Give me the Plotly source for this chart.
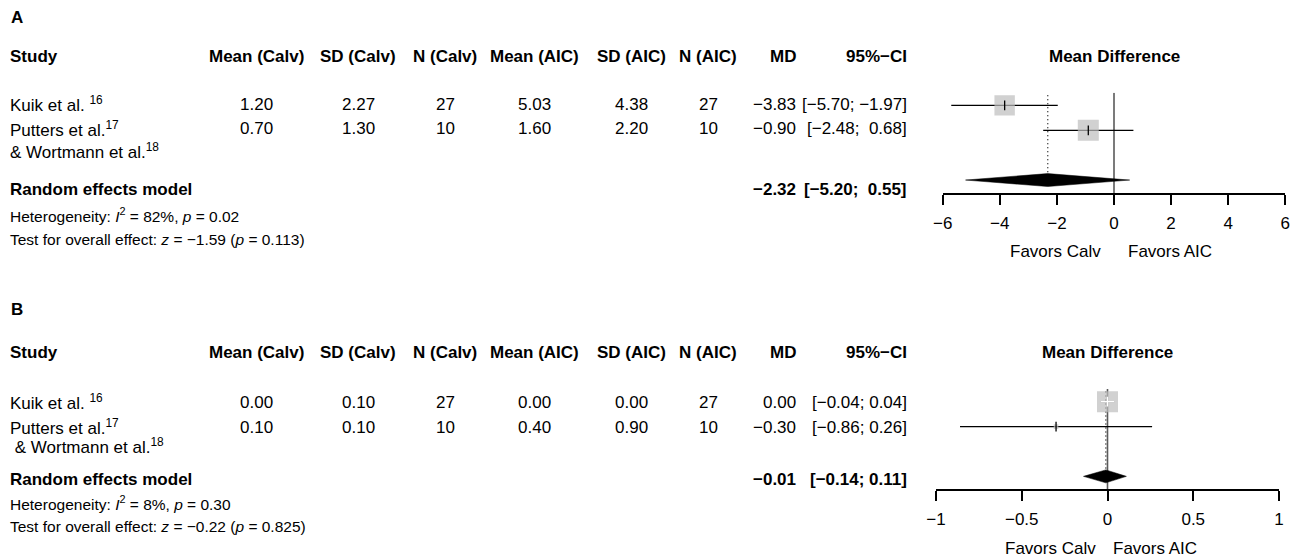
import plotly.graph_objects as go

W, H = 1300, 560
FONT = "Liberation Sans, Arial, Helvetica, sans-serif"

# ---------------- data ----------------
panel_labels = ["A", "B"]
study_line1 = ["Kuik et al. <sup>16</sup>", "Putters et al.<sup>17</sup>"]
study_line2 = ["& Wortmann et al.<sup>18</sup>", "\u00a0& Wortmann et al.<sup>18</sup>"]
headers = ["Study", "Mean (Calv)", "SD (Calv)", "N (Calv)", "Mean (AIC)",
           "SD (AIC)", "N (AIC)", "MD", "95%\u2212CI"]

mean_calv_A = [1.20, 0.70]
sd_calv_A = [2.27, 1.30]
n_calv_A = [27, 10]
mean_aic_A = [5.03, 1.60]
sd_aic_A = [4.38, 2.20]
n_aic_A = [27, 10]
md_A = [-3.83, -0.90]
ci_lo_A = [-5.70, -2.48]
ci_hi_A = [-1.97, 0.68]
weight_A = [48.6, 51.4]
pooled_A = [-2.32, -5.20, 0.55]
het_A = ["82%", "0.02", -1.59, "0.113"]

mean_calv_B = [0.00, 0.10]
sd_calv_B = [0.10, 0.10]
n_calv_B = [27, 10]
mean_aic_B = [0.00, 0.40]
sd_aic_B = [0.00, 0.90]
n_aic_B = [27, 10]
md_B = [0.00, -0.30]
ci_lo_B = [-0.04, -0.86]
ci_hi_B = [0.04, 0.26]
weight_B = [95.3, 4.7]
pooled_B = [-0.01, -0.14, 0.11]
het_B = ["8%", "0.30", -0.22, "0.825"]

xrange_A = [-6, 6]
xticks_A = [-6, -4, -2, 0, 2, 4, 6]
xrange_B = [-1, 1]
xticks_B = [-1, -0.5, 0, 0.5, 1]
favors = ["Favors Calv", "Favors AIC"]

# ---------------- layout constants (pixels) ----------------
col_x = [9, 256, 358, 445, 534, 631, 708, 797, 908]
col_anchor = ["left", "center", "center", "center", "center", "center", "center", "right", "right"]

layouts = [
    dict(label=17, header=57, r1=104, r2=129, r2b=151, summ=189, het=215, test=239,
         plot_top=92.7, plot_bot=193.0, x0=942.7, x1=1285.3, fav=252,
         fav_shift=(-11.7, 13.3), r2b_x=9),
    dict(label=309, header=352, r1=402, r2=427, r2b=446, summ=479, het=503, test=526,
         plot_top=389.0, plot_bot=489.3, x0=936.0, x1=1279.0, fav=548,
         fav_shift=(-10.6, 4.4), r2b_x=9),
]

YR = [4.52, 0.49]  # row units, reversed (row 1 at top)
SQ_MAX = 21
DIAM_H = 0.26


def X(px):
    return px / W


def Y(py):
    return 1 - py / H


def fmt(v, d=2):
    s = f"{abs(v):.{d}f}"
    return ("\u2212" + s) if v < 0 else s


panels = [
    dict(mc=mean_calv_A, sc=sd_calv_A, nc=n_calv_A, ma=mean_aic_A, sa=sd_aic_A, na=n_aic_A,
         md=md_A, lo=ci_lo_A, hi=ci_hi_A, w=weight_A, pooled=pooled_A, het=het_A,
         xr=xrange_A, xt=xticks_A),
    dict(mc=mean_calv_B, sc=sd_calv_B, nc=n_calv_B, ma=mean_aic_B, sa=sd_aic_B, na=n_aic_B,
         md=md_B, lo=ci_lo_B, hi=ci_hi_B, w=weight_B, pooled=pooled_B, het=het_B,
         xr=xrange_B, xt=xticks_B),
]

fig = go.Figure()
annotations = []
shapes = []


def ann(text, x, y, anchor="left", size=17, **kw):
    d = dict(text=text, x=x, y=y, xref="paper", yref="paper", xanchor=anchor,
             yanchor="middle", showarrow=False, borderpad=0,
             font=dict(family=FONT, size=size, color="black"))
    d.update(kw)
    annotations.append(d)


for i, (P, L) in enumerate(zip(panels, layouts)):
    xa = "x" if i == 0 else "x2"
    ya = "y" if i == 0 else "y2"
    # panel letter
    ann(f"<b>{panel_labels[i]}</b>", X(10), Y(L["label"]))
    # headers
    for h, cx, an in zip(headers, col_x, col_anchor):
        ann(f"<b>{h}</b>", X(cx), Y(L["header"]), an)
    ann("<b>Mean Difference</b>", 0.5, Y(L["header"]), "center",
        xref=f"{xa} domain")
    # study rows
    pad = any(h < 0 for h in P["hi"] + [P["pooled"][2]])

    def cistr(lo, hi):
        hs = fmt(hi)
        if pad and hi >= 0:
            hs = "\u00a0" + hs
        return f"[{fmt(lo)};\u00a0{hs}]"

    rows_y = [L["r1"], L["r2"]]
    for k in range(2):
        vals = [study_line1[k], fmt(P["mc"][k]), fmt(P["sc"][k]), str(P["nc"][k]),
                fmt(P["ma"][k]), fmt(P["sa"][k]), str(P["na"][k]), fmt(P["md"][k]),
                cistr(P["lo"][k], P["hi"][k])]
        for v, cx, an in zip(vals, col_x, col_anchor):
            ann(v, X(cx), Y(rows_y[k]), an)
    ann(study_line2[i], X(L["r2b_x"]), Y(L["r2b"]))
    # summary
    ann("<b>Random effects model</b>", X(9), Y(L["summ"]))
    ann(f"<b>{fmt(P['pooled'][0])}</b>", X(col_x[7]), Y(L["summ"]), "right")
    ann(f"<b>{cistr(P['pooled'][1], P['pooled'][2])}</b>", X(col_x[8]), Y(L["summ"]), "right")
    i2, ph, z, pz = P["het"]
    ann(f"Heterogeneity: <i>I</i><sup>2</sup> = {i2}, <i>p</i> = {ph}", X(9), Y(L["het"]), size=15.5)
    ann(f"Test for overall effect: <i>z</i> = {fmt(z)} (<i>p</i> = {pz})", X(9), Y(L["test"]), size=15.5)
    # favors labels
    ann(favors[0], 0, Y(L["fav"]), "right", xref=xa, xshift=L["fav_shift"][0])
    ann(favors[1], 0, Y(L["fav"]), "left", xref=xa, xshift=L["fav_shift"][1])

    # ---- forest marks ----
    rows = [1, 2]
    summ_row = 4
    ppu = (L["x1"] - L["x0"]) / (P["xr"][1] - P["xr"][0])
    wmax = max(P["w"])
    sizes = [SQ_MAX * (w / wmax) ** 0.5 for w in P["w"]]
    # zero line and dotted pooled line (below traces)
    shapes.append(dict(type="line", xref=xa, yref=ya, x0=0, x1=0, y0=YR[1], y1=YR[0],
                       line=dict(color="#5a5a5a", width=1.6), layer="below"))
    shapes.append(dict(type="line", xref=xa, yref=ya, x0=P["pooled"][0], x1=P["pooled"][0],
                       y0=YR[1] + 0.1, y1=summ_row - DIAM_H,
                       line=dict(color="black", width=1.2, dash="1px,3px"), layer="below"))
    # CI lines
    cx, cy = [], []
    for k in range(2):
        cx += [P["lo"][k], P["hi"][k], None]
        cy += [rows[k], rows[k], None]
    fig.add_trace(go.Scatter(x=cx, y=cy, mode="lines", xaxis=xa, yaxis=ya,
                             line=dict(color="black", width=1.3), hoverinfo="skip"))
    # squares
    fig.add_trace(go.Scatter(x=P["md"], y=rows, mode="markers", xaxis=xa, yaxis=ya,
                             marker=dict(symbol="square", size=sizes, color="#bebebe",
                                         line=dict(width=0)), hoverinfo="skip"))
    # CI inside square -> white
    inside = [(P["hi"][k] - P["lo"][k]) * ppu < sizes[k] for k in range(2)]
    wx, wy = [], []
    for k in range(2):
        if inside[k]:
            wx += [P["lo"][k], P["hi"][k], None]
            wy += [rows[k], rows[k], None]
    if wx:
        fig.add_trace(go.Scatter(x=wx, y=wy, mode="lines", xaxis=xa, yaxis=ya,
                                 line=dict(color="white", width=1.3), hoverinfo="skip"))
    # point ticks
    fig.add_trace(go.Scatter(x=P["md"], y=rows, mode="markers", xaxis=xa, yaxis=ya,
                             marker=dict(symbol="line-ns", size=7,
                                         line=dict(width=1.3,
                                                   color=["white" if f else "black" for f in inside])),
                             hoverinfo="skip"))
    # diamond
    est, plo, phi = P["pooled"]
    fig.add_trace(go.Scatter(x=[plo, est, phi, est, plo],
                             y=[summ_row, summ_row - DIAM_H, summ_row, summ_row + DIAM_H, summ_row],
                             mode="lines", fill="toself", fillcolor="black", xaxis=xa, yaxis=ya,
                             line=dict(color="black", width=0.5), hoverinfo="skip"))

    axis_common = dict(showline=True, linecolor="black", linewidth=1.5, ticks="outside",
                       ticklen=10, tickwidth=1.5, tickcolor="black", showgrid=False,
                       zeroline=False, tickfont=dict(family=FONT, size=17, color="black"),
                       fixedrange=True, automargin=False, ticklabelstandoff=4)
    fig.layout[("xaxis" if i == 0 else "xaxis2")] = dict(
        domain=[X(L["x0"]), X(L["x1"])], range=P["xr"], tickvals=P["xt"], anchor=ya,
        **axis_common)
    fig.layout[("yaxis" if i == 0 else "yaxis2")] = dict(
        domain=[Y(L["plot_bot"]), Y(L["plot_top"])], range=YR, anchor=xa, visible=False,
        fixedrange=True, automargin=False)

fig.update_layout(width=W, height=H,
                  margin=dict(l=0, r=0, t=0, b=0, pad=0, autoexpand=False),
                  paper_bgcolor="white", plot_bgcolor="white", showlegend=False,
                  annotations=annotations, shapes=shapes,
                  font=dict(family=FONT, color="black"))
fig.write_html("out.html", config={"displayModeBar": False})
